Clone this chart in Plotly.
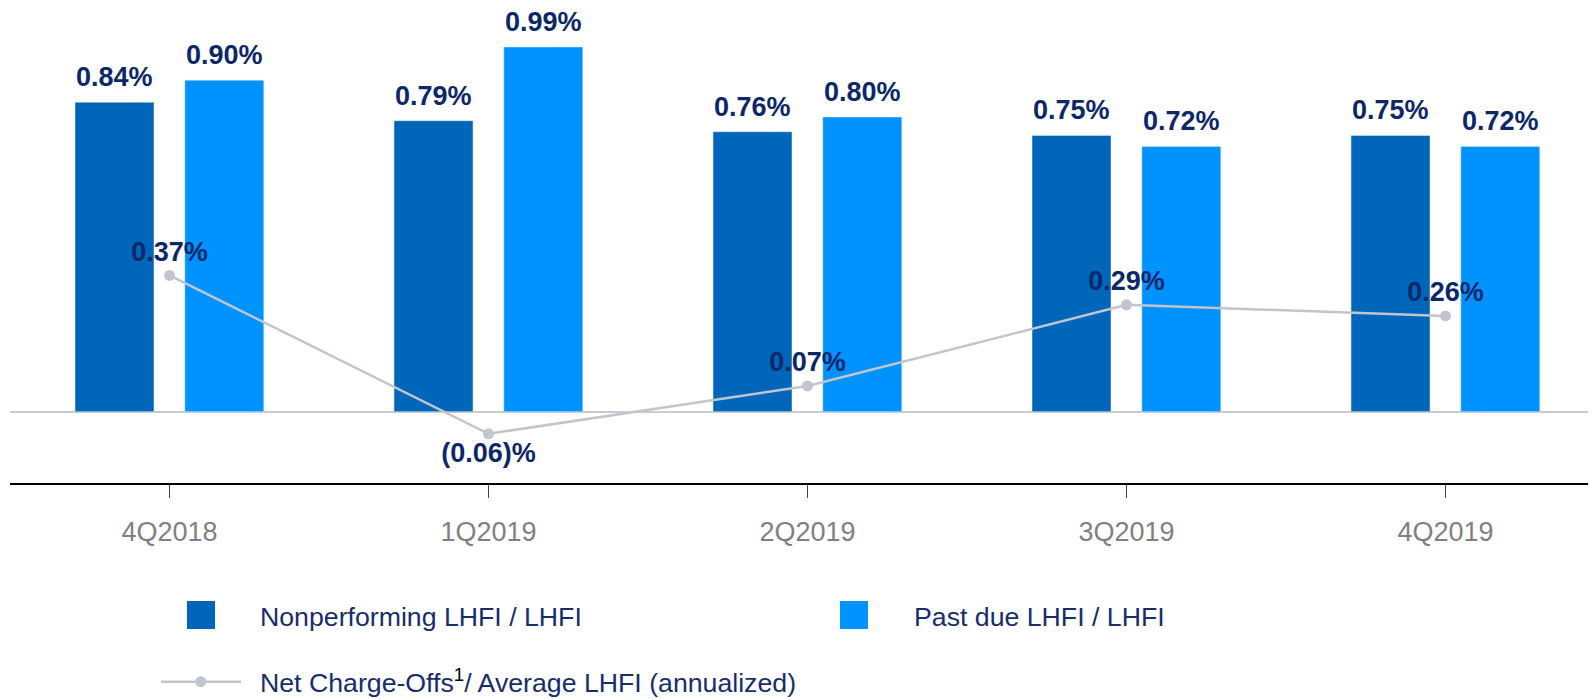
import plotly.graph_objects as go

categories = ["4Q2018", "1Q2019", "2Q2019", "3Q2019", "4Q2019"]
nonperforming = [0.84, 0.79, 0.76, 0.75, 0.75]
past_due = [0.90, 0.99, 0.80, 0.72, 0.72]
net_charge_offs = [0.37, -0.06, 0.07, 0.29, 0.26]

nco_labels = [f"{v:.2f}%" if v >= 0 else f"({abs(v):.2f})%" for v in net_charge_offs]

DARK = "#0066b9"
LIGHT = "#0092ff"
GRAY = "#c0c5ce"
NAVY = "#0d2769"
LEG_NAVY = "#172d6c"
FONT = "Liberation Sans, Arial, sans-serif"

BODY = 8  # default page margin of the html body
W, H = 1596, 699
ML, MR, MT = 2, 8, 2
PLOT_BOTTOM = 483 - BODY
MB = H - PLOT_BOTTOM
PW = W - ML - MR
PH = PLOT_BOTTOM - MT

BAR_W = 0.2476
OFF_DARK = -0.2962
OFF_LIGHT = 0.048

fig = go.Figure()
idx = list(range(len(categories)))
fig.add_trace(go.Bar(x=idx, y=nonperforming, name="Nonperforming LHFI / LHFI",
                     marker_color=DARK, width=BAR_W, offset=OFF_DARK, showlegend=False))
fig.add_trace(go.Bar(x=idx, y=past_due, name="Past due LHFI / LHFI",
                     marker_color=LIGHT, width=BAR_W, offset=OFF_LIGHT, showlegend=False))
fig.add_trace(go.Scatter(x=idx, y=net_charge_offs, mode="lines+markers+text",
                         name="Net Charge-Offs / Average LHFI (annualized)",
                         line=dict(color=GRAY, width=2.5),
                         marker=dict(color=GRAY, size=11),
                         text=nco_labels,
                         textposition=["top center" if v >= 0 else "bottom center" for v in net_charge_offs],
                         textfont=dict(family=FONT, size=27, color=NAVY, weight="bold"),
                         cliponaxis=False, showlegend=False))

annotations = []
for i, (a, b) in enumerate(zip(nonperforming, past_due)):
    annotations.append(dict(x=i + OFF_DARK + BAR_W / 2, y=a, xref="x", yref="y",
                            text=f"<b>{a:.2f}%</b>", showarrow=False, yanchor="bottom",
                            yshift=8, font=dict(family=FONT, size=27, color=NAVY)))
    annotations.append(dict(x=i + OFF_LIGHT + BAR_W / 2, y=b, xref="x", yref="y",
                            text=f"<b>{b:.2f}%</b>", showarrow=False, yanchor="bottom",
                            yshift=8, font=dict(family=FONT, size=27, color=NAVY)))


def px(xp):
    # page pixel -> paper fraction
    return (xp - BODY - ML) / PW


def py(yp):
    return (PLOT_BOTTOM - (yp - BODY)) / PH


shapes = []
# legend swatches
shapes.append(dict(type="rect", xref="paper", yref="paper", x0=px(187), x1=px(215),
                   y0=py(629), y1=py(601), fillcolor=DARK, line=dict(width=0)))
shapes.append(dict(type="rect", xref="paper", yref="paper", x0=px(840), x1=px(868),
                   y0=py(629), y1=py(601), fillcolor=LIGHT, line=dict(width=0)))
shapes.append(dict(type="line", xref="paper", yref="paper", x0=px(161), x1=px(241),
                   y0=py(681.7), y1=py(681.7), line=dict(color=GRAY, width=2.5)))
shapes.append(dict(type="circle", xref="paper", yref="paper", x0=px(195.2), x1=px(206.2),
                   y0=py(687.2), y1=py(676.2), fillcolor=GRAY, line=dict(width=0)))

leg_font = dict(family=FONT, size=26.7, color=LEG_NAVY)
annotations.append(dict(x=px(258), y=py(617), xref="paper", yref="paper", xanchor="left",
                        yanchor="middle", showarrow=False, text="Nonperforming LHFI / LHFI",
                        font=leg_font))
annotations.append(dict(x=px(912), y=py(617), xref="paper", yref="paper", xanchor="left",
                        yanchor="middle", showarrow=False, text="Past due LHFI / LHFI",
                        font=leg_font))
annotations.append(dict(x=px(258), y=py(681), xref="paper", yref="paper", xanchor="left",
                        yanchor="middle", showarrow=False,
                        text="Net Charge-Offs<sup><span style='color:#000000'>1</span></sup>/ Average LHFI (annualized)",
                        font=leg_font))

ZERO_Y = 411.7 - BODY
UNIT = 368.4
y_lo = -(PLOT_BOTTOM - ZERO_Y) / UNIT
y_hi = (ZERO_Y - MT) / UNIT

fig.update_layout(
    width=W, height=H,
    margin=dict(l=ML, r=MR, t=MT, b=MB),
    plot_bgcolor="white", paper_bgcolor="white",
    barmode="overlay",
    annotations=annotations,
    shapes=shapes,
    xaxis=dict(range=[-0.5, (PW / 319.0) - 0.5], tickmode="array", tickvals=idx,
               ticktext=categories, showline=True, linecolor="#000000", linewidth=2,
               ticks="outside", ticklen=13, tickcolor="#444444", tickwidth=1,
               tickfont=dict(family=FONT, size=27, color="#808080"),
               showgrid=False, zeroline=False, ticklabelstandoff=11, fixedrange=True),
    yaxis=dict(range=[y_lo, y_hi], showticklabels=False, showgrid=False,
               zeroline=True, zerolinecolor="#c8cbd0", zerolinewidth=1.5,
               showline=False, ticks="", fixedrange=True),
)

fig.write_html("out.html")
